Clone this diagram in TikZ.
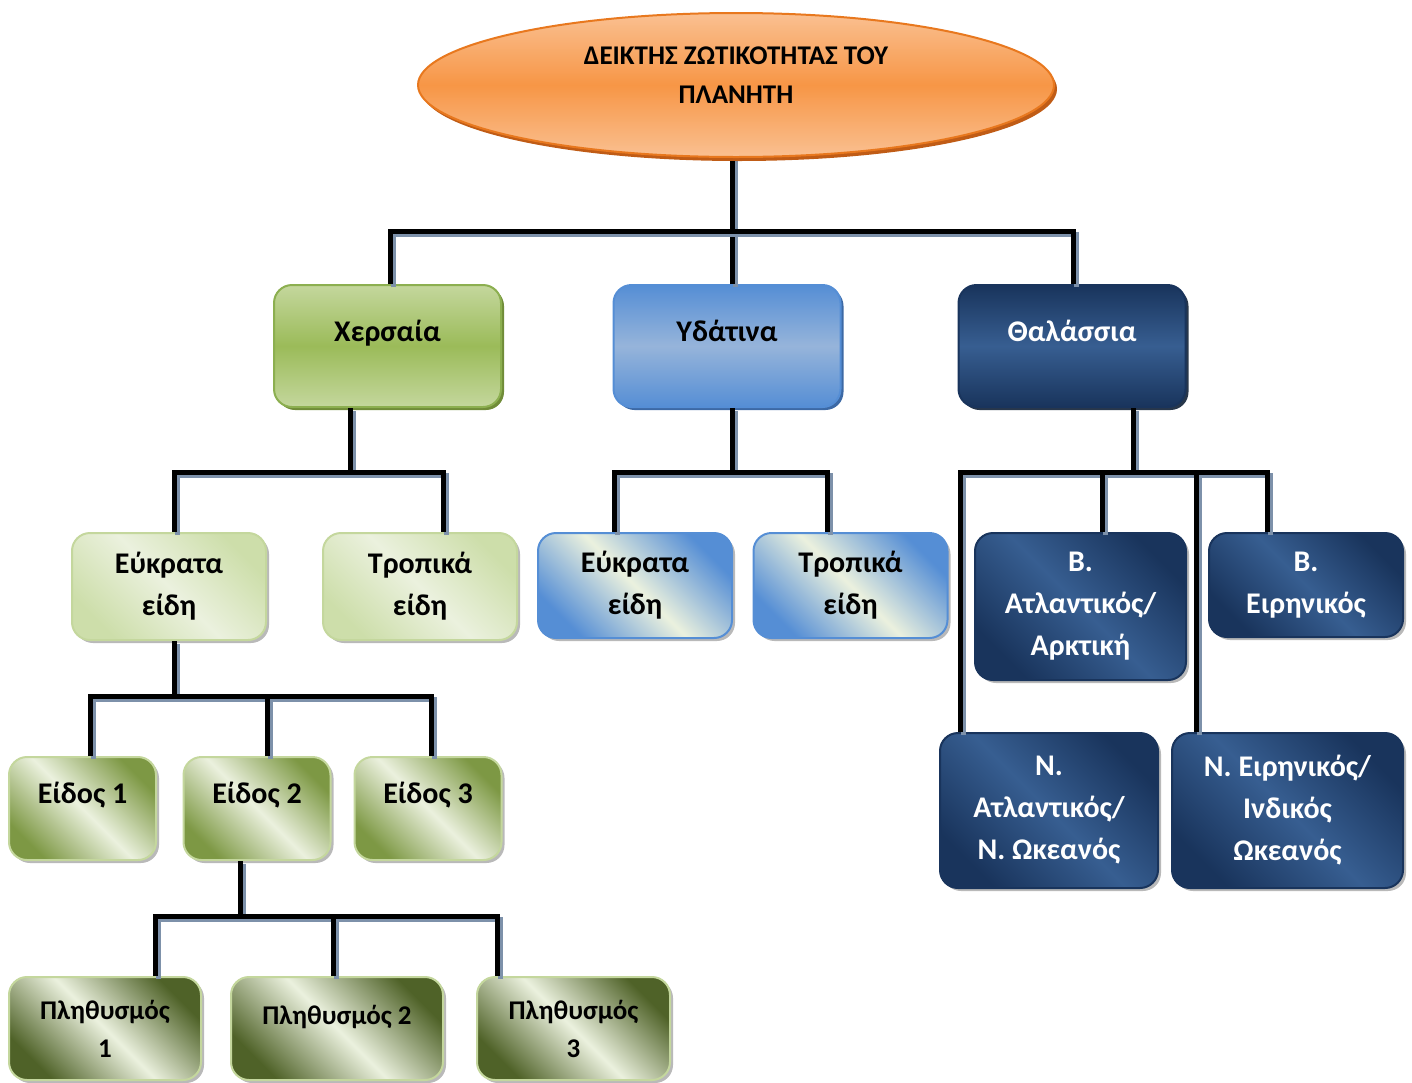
\documentclass[tikz,border=0pt]{standalone}
\usepackage{fontspec}
\setmainfont{Carlito}
\usetikzlibrary{shapes.geometric,shadows}

\definecolor{oraLight}{RGB}{250,192,145}
\definecolor{oraMid}{RGB}{247,150,70}
\definecolor{oraLine}{RGB}{232,120,30}
\definecolor{oraShadow}{RGB}{192,92,22}
\definecolor{grnLight}{RGB}{196,215,157}
\definecolor{grnMid}{RGB}{155,187,89}
\definecolor{grnLine}{RGB}{140,175,80}
\definecolor{grnShadow}{RGB}{112,140,56}
\definecolor{bluDark}{RGB}{85,142,213}
\definecolor{bluLight}{RGB}{150,180,218}
\definecolor{bluShadow}{RGB}{60,105,165}
\definecolor{navyDark}{RGB}{25,52,92}
\definecolor{navyMid}{RGB}{55,94,145}
\definecolor{navyShadow}{RGB}{40,55,75}
\definecolor{paleGrn}{RGB}{235,241,222}
\definecolor{softGrn}{RGB}{205,222,170}
\definecolor{oliveDark}{RGB}{125,152,68}
\definecolor{oliveDeep}{RGB}{79,98,40}
\definecolor{linkShadow}{RGB}{125,145,170}

\tikzset{every picture/.style={line width=0.75pt}}
\tikzset{
  box/.style={rounded corners=9pt, align=center, inner sep=2pt,
    font=\bfseries\fontsize{15}{21}\selectfont},
  raised/.style={text height=11pt, text depth=16pt},
  hatchshadow/.style={drop shadow={shadow xshift=1.5pt, shadow yshift=-1.5pt,
    fill=black!50, opacity=0.55}},
  rootshape/.style={ellipse, draw=oraLine, line width=1pt, align=center,
    minimum width=318pt, minimum height=72pt,
    top color=oraLight, bottom color=oraLight, middle color=oraMid,
    drop shadow={shadow xshift=1.5pt, shadow yshift=-2pt, fill=oraShadow, opacity=1},
    font=\bfseries\fontsize{13.5}{19.5}\selectfont},
  landbox/.style={box, raised, draw=grnLine, line width=1pt,
    minimum width=113.5pt, minimum height=61pt,
    top color=grnLight, bottom color=grnLight, middle color=grnMid,
    drop shadow={shadow xshift=1.5pt, shadow yshift=-1.5pt, fill=grnShadow, opacity=1}},
  waterbox/.style={box, raised, draw=bluDark, line width=1pt,
    minimum width=113.5pt, minimum height=61pt,
    top color=bluDark, bottom color=bluDark, middle color=bluLight,
    drop shadow={shadow xshift=1.5pt, shadow yshift=-1.5pt, fill=bluShadow, opacity=1}},
  seabox/.style={box, raised, draw=navyDark, line width=1pt, text=white,
    minimum width=113.5pt, minimum height=61pt,
    top color=navyDark, bottom color=navyDark, middle color=navyMid,
    drop shadow={shadow xshift=1.5pt, shadow yshift=-1.5pt, fill=navyShadow, opacity=1}},
  palegreen/.style={box, hatchshadow, draw=grnLight, line width=1pt,
    top color=softGrn, bottom color=softGrn, middle color=paleGrn, shading angle=-45},
  paleblue/.style={box, hatchshadow, draw=bluDark, line width=1pt,
    top color=bluDark, bottom color=bluDark, middle color=paleGrn, shading angle=-45},
  navybox/.style={box, hatchshadow, draw=navyDark, line width=1pt, text=white,
    top color=navyDark, bottom color=navyDark, middle color=navyMid, shading angle=-45},
  speciesbox/.style={box, raised, hatchshadow, draw=grnLight, line width=1pt,
    minimum width=73.5pt, minimum height=51.5pt,
    top color=oliveDark, bottom color=oliveDark, middle color=paleGrn, shading angle=-45},
  popbox/.style={box, hatchshadow, draw=grnLight, line width=1pt,
    minimum height=51.5pt, font=\bfseries\fontsize{13.5}{19}\selectfont,
    top color=oliveDeep, bottom color=oliveDeep, middle color=paleGrn, shading angle=-45},
  link/.style={line width=2.5pt, black,
    preaction={draw=linkShadow, line width=2.5pt, transform canvas={xshift=1.5pt, yshift=-1.5pt}}}
}

\begin{document}
\begin{tikzpicture}[x=0.5pt,y=0.5pt,yscale=-1,xscale=1]
	\useasboundingbox (0,0) rectangle (1412,1082);

	%Level 1
	\node[landbox] (chers) at (387.5,346) {Χερσαία};
	\node[waterbox] (ydat) at (727,346) {Υδάτινα};
	\node[seabox] (thal) at (1072,346) {Θαλάσσια};

	%Connectors below the root
	\draw[link] ([shift={(5,0)}]ydat.north) -- ++(0,-128);
	\draw[link] ([shift={(2.5,0)}]chers.north) -- ++(0,-53) -| ([shift={(1,0)}]thal.north);

	%Shape: Ellipse
	\node[rootshape] (root) at (736,85) {ΔΕΙΚΤΗΣ ΖΩΤΙΚΟΤΗΤΑΣ ΤΟΥ\\ΠΛΑΝΗΤΗ\\[-10pt]\mbox{}};

	%Level 2
	\node[palegreen, minimum width=97pt, minimum height=53.5pt] (eukland) at (169,586.5) {Εύκρατα\\είδη};
	\node[palegreen, minimum width=97pt, minimum height=53.5pt] (tropland) at (420,586.5) {Τροπικά\\είδη};
	\node[paleblue, minimum width=97pt, minimum height=52.5pt] (eukwater) at (635,585.5) {Εύκρατα\\είδη};
	\node[paleblue, minimum width=97pt, minimum height=52.5pt] (tropwater) at (850.5,585.5) {Τροπικά\\είδη};
	\node[navybox, minimum width=105.5pt, minimum height=73.5pt] (natlantic) at (1080.5,606.5) {Β.\\Ατλαντικός/\\Αρκτική};
	\node[navybox, minimum width=97pt, minimum height=52pt] (npacific) at (1306,585) {Β.\\Ειρηνικός};
	\node[navybox, minimum width=109pt, minimum height=77.5pt] (satlantic) at (1049,810.5) {Ν.\\Ατλαντικός/\\Ν. Ωκεανός};
	\node[navybox, minimum width=115.5pt, minimum height=77.5pt] (spacific) at (1287.5,810.5) {Ν. Ειρηνικός/\\Ινδικός\\Ωκεανός};

	%Level 3
	\node[speciesbox] (eidos1) at (82.5,808.5) {Είδος 1};
	\node[speciesbox] (eidos2) at (257,808.5) {Είδος 2};
	\node[speciesbox] (eidos3) at (428,808.5) {Είδος 3};

	%Level 4
	\node[popbox, minimum width=96pt] (pop1) at (105,1028.5) {Πληθυσμός\\1};
	\node[popbox, minimum width=106pt, text height=11pt, text depth=15pt] (pop2) at (337,1028.5) {Πληθυσμός 2};
	\node[popbox, minimum width=96.5pt] (pop3) at (573.5,1028.5) {Πληθυσμός\\3};

	%Branches below Χερσαία
	\draw[link] ([shift={(-37,0)}]chers.south) -- ++(0,66);
	\draw[link] ([shift={(5,0)}]eukland.north) -- ++(0,-60) -| ([shift={(23,0)}]tropland.north);
	%Branches below Υδάτινα
	\draw[link] ([shift={(5,0)}]ydat.south) -- ++(0,66);
	\draw[link] ([shift={(-21,0)}]eukwater.north) -- ++(0,-60) -| ([shift={(-23,0)}]tropwater.north);
	%Branches below Θαλάσσια
	\draw[link] ([shift={(61,0)}]thal.south) -- ++(0,66);
	\draw[link] ([shift={(-89,0)}]satlantic.north) -- ++(0,-260) -| ([shift={(-39,0)}]npacific.north);
	\draw[link] ([shift={(22,0)}]natlantic.north) -- ++(0,-60);
	\draw[link] ([shift={(-91,0)}]spacific.north) -- ++(0,-260);
	%Branches below Εύκρατα είδη
	\draw[link] ([shift={(5,0)}]eukland.south) -- ++(0,57);
	\draw[link] ([shift={(8,0)}]eidos1.north) -- ++(0,-60) -| ([shift={(3,0)}]eidos3.north);
	\draw[link] ([shift={(10,0)}]eidos2.north) -- ++(0,-60);
	%Branches below Είδος 2
	\draw[link] ([shift={(-17,0)}]eidos2.south) -- ++(0,57);
	\draw[link] ([shift={(50,0)}]pop1.north) -- ++(0,-60) -| ([shift={(-76,0)}]pop3.north);
	\draw[link] ([shift={(-4,0)}]pop2.north) -- ++(0,-60);

\end{tikzpicture}
\end{document}
